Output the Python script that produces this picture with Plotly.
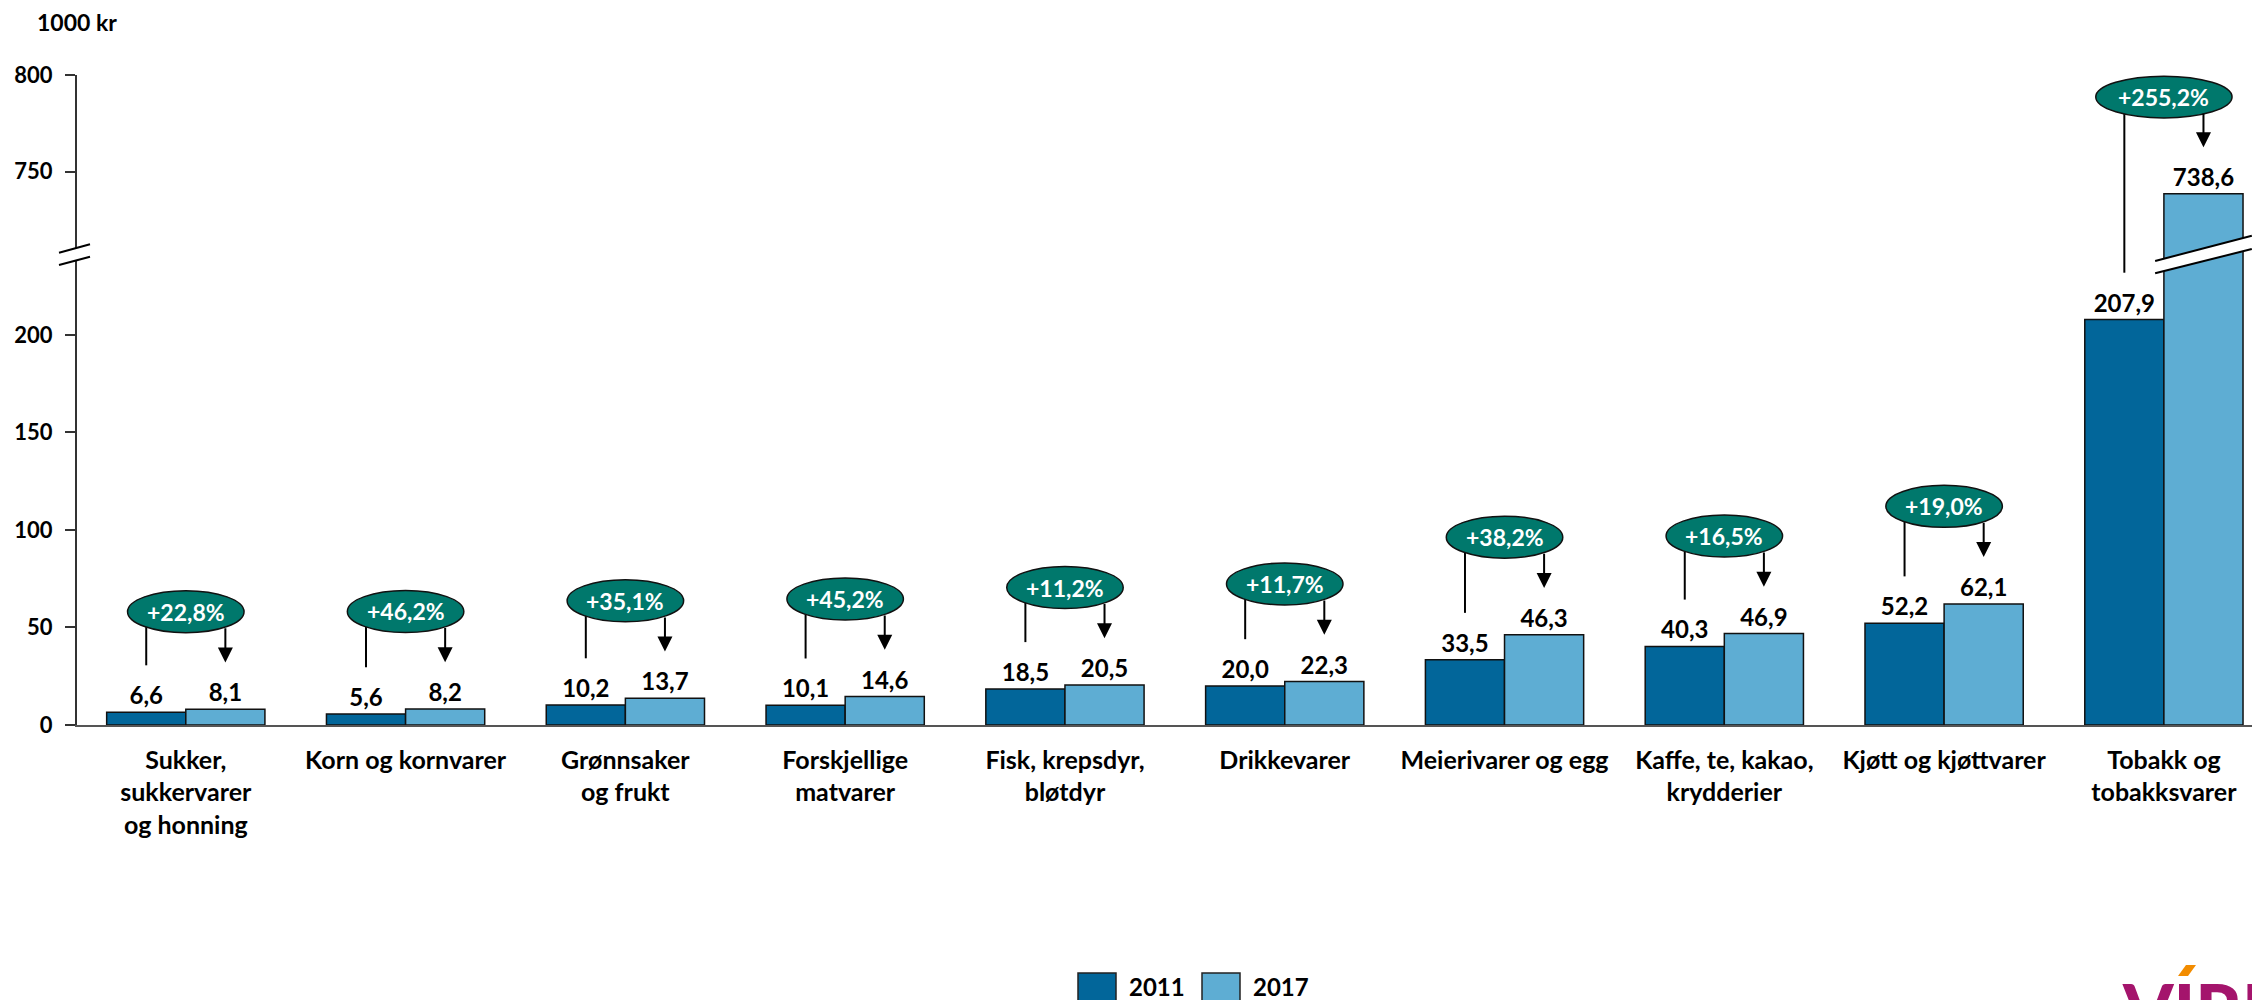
import plotly.graph_objects as go

# ── Data ─────────────────────────────────────────────────────────────────────
categories = [
    "Sukker,<br>sukkervarer<br>og honning", "Korn og kornvarer", "Grønnsaker<br>og frukt",
    "Forskjellige<br>matvarer", "Fisk, krepsdyr,<br>bløtdyr", "Drikkevarer",
    "Meierivarer og egg", "Kaffe, te, kakao,<br>krydderier", "Kjøtt og kjøttvarer",
    "Tobakk og<br>tobakksvarer",
]
v2011 = [6.6, 5.6, 10.2, 10.1, 18.5, 20.0, 33.5, 40.3, 52.2, 207.9]
v2017 = [8.1, 8.2, 13.7, 14.6, 20.5, 22.3, 46.3, 46.9, 62.1, 738.6]
changes = ["+22,8%", "+46,2%", "+35,1%", "+45,2%", "+11,2%",
           "+11,7%", "+38,2%", "+16,5%", "+19,0%", "+255,2%"]
years = ["2011", "2017"]

C_2011 = "#02669A"
C_2017 = "#5EADD3"
C_TEAL = "#00786C"
FONT = "Lato, Carlito, Calibri, sans-serif"

# broken y axis: lower part 0..LOW_MAX, upper part UP_MIN..UP_MAX
LOW_MAX, UP_MIN, UP_MAX = 242, 708, 800

# page geometry (the html body adds an 8px margin round the figure)
OFF = 8
PAGE_W, PAGE_H = 2260, 1000
PLOT_L, PLOT_T, PLOT_B = 77, 75, 725      # page pixels
W, H = PAGE_W - OFF, PAGE_H - OFF
L, T, R = PLOT_L - OFF, PLOT_T - OFF, 0
B = H - (PLOT_B - OFF)
PW, PH = W - L - R, H - T - B
SPLIT = (PLOT_B - 253) / PH  # lower part ends at the break (page y 253)
PX_PER_UNIT = (PLOT_B - 253) / LOW_MAX


def px(x):
    """page pixel x -> paper"""
    return (x - PLOT_L) / PW


def py(y):
    """page pixel y -> paper"""
    return (PLOT_B - y) / PH


def fmt(v):
    return f"{v:.1f}".replace(".", ",")


def axes_for(v):
    return ("x2", "y2") if v > LOW_MAX else ("x", "y")


x = list(range(len(categories)))
fig = go.Figure()

# bars in both halves of the broken axis
for xa, ya, upper in (("x", "y", False), ("x2", "y2", True)):
    for name, vals, col in ((years[0], v2011, C_2011), (years[1], v2017, C_2017)):
        txt = [fmt(v) if ((v > LOW_MAX) == upper) else "" for v in vals]
        fig.add_trace(go.Bar(
            x=x, y=vals, name=name, xaxis=xa, yaxis=ya,
            marker=dict(color=col, line=dict(color="#111", width=1.5)),
            text=txt, textposition="outside", cliponaxis=False,
            textfont=dict(family=FONT, size=24, color="#000", weight="bold"),
            showlegend=False, hoverinfo="skip",
        ))

shapes, annotations = [], []
HALF_OFF = 0.18  # bar centre offset inside group
E_HALF_H = 21 / PX_PER_UNIT  # ellipse half height in data units

for i, (a, b, ch) in enumerate(zip(v2011, v2017, changes)):
    ell_y = max(a, b) + 50
    l_start = a + 24
    tip = b + 24
    # left vertical line (may cross the break)
    xa_s, ya_s = axes_for(l_start)
    xa_e, ya_e = axes_for(ell_y)
    if ya_s == ya_e:
        shapes.append(dict(type="line", xref=xa_s, yref=ya_s, x0=i - HALF_OFF, x1=i - HALF_OFF,
                           y0=l_start, y1=ell_y, line=dict(color="#000", width=2)))
    else:
        shapes.append(dict(type="line", xref="x", yref="y", x0=i - HALF_OFF, x1=i - HALF_OFF,
                           y0=l_start, y1=LOW_MAX, line=dict(color="#000", width=2)))
        shapes.append(dict(type="line", xref="x2", yref="y2", x0=i - HALF_OFF, x1=i - HALF_OFF,
                           y0=UP_MIN, y1=ell_y, line=dict(color="#000", width=2)))
    # ellipse with change label
    half_w = 0.265 + 0.045 * (len(ch) - 6)
    shapes.append(dict(type="circle", xref=xa_e, yref=ya_e, x0=i - half_w, x1=i + half_w,
                       y0=ell_y - E_HALF_H, y1=ell_y + E_HALF_H, fillcolor=C_TEAL,
                       line=dict(color="#111", width=1.5), layer="above"))
    annotations.append(dict(x=i, y=ell_y, xref=xa_e, yref=ya_e, text=ch, showarrow=False,
                            font=dict(family=FONT, size=23, color="white", weight="bold")))
    # arrow down to the 2017 bar
    xa_t, ya_t = axes_for(tip)
    annotations.append(dict(x=i + HALF_OFF, y=tip, xref=xa_t, yref=ya_t,
                            ax=i + HALF_OFF, ay=ell_y - 0.72 * E_HALF_H, axref=xa_t, ayref=ya_t,
                            text="", showarrow=True, arrowhead=2, arrowsize=1.5,
                            arrowwidth=2, arrowcolor="#000"))

# axis break marks on the y axis
shapes.append(dict(type="path", xref="paper", yref="paper", layer="above",
                   path=f"M{px(59)},{py(252.7)} L{px(90)},{py(244.3)} L{px(90)},{py(256.7)} L{px(59)},{py(265)} Z",
                   fillcolor="white", line=dict(width=0)))
for y0, y1 in ((252.7, 244.3), (265, 256.7)):
    shapes.append(dict(type="line", xref="paper", yref="paper", x0=px(59), x1=px(90),
                       y0=py(y0), y1=py(y1), line=dict(color="#000", width=2)))

# break marks across the tall bar
bx0, bx1 = len(categories) - 1 - 0.04, len(categories) - 1 + 0.40
shapes.append(dict(type="path", xref="x", yref="paper", layer="above",
                   path=f"M{bx0},{py(261)} L{bx1},{py(235.7)} L{bx1},{py(249)} L{bx0},{py(273.3)} Z",
                   fillcolor="white", line=dict(width=0)))
for y0, y1 in ((261, 235.7), (273.3, 249)):
    shapes.append(dict(type="line", xref="x", yref="paper", x0=bx0, x1=bx1,
                       y0=py(y0), y1=py(y1), line=dict(color="#000", width=2)))

# legend (bottom centre, partly cut like the original)
for lx, name, col in ((1078, years[0], C_2011), (1202, years[1], C_2017)):
    shapes.append(dict(type="rect", xref="paper", yref="paper", x0=px(lx), x1=px(lx + 38),
                       y0=py(973), y1=py(1012), fillcolor=col, line=dict(color="#222", width=1.5)))
    annotations.append(dict(x=px(lx + 49), y=py(986), xref="paper", yref="paper", text=name,
                            showarrow=False, xanchor="left", yanchor="middle",
                            font=dict(family=FONT, size=24, color="#000", weight="bold")))

# unit label
annotations.append(dict(x=px(35), y=py(22), xref="paper", yref="paper", text="1000 kr",
                        showarrow=False, xanchor="left", yanchor="middle",
                        font=dict(family=FONT, size=23, color="#000", weight="bold")))

# logo, cut at the corner
annotations.append(dict(x=px(2120), y=py(964), xref="paper", yref="paper", text="VIRKE",
                        showarrow=False, xanchor="left", yanchor="top",
                        font=dict(family=FONT, size=72, color="#A4146C", weight=900)))
shapes.append(dict(type="path", xref="paper", yref="paper",
                   path=f"M{px(2178)},{py(976)} L{px(2186)},{py(965)} L{px(2196)},{py(965)} L{px(2188)},{py(976)} Z",
                   fillcolor="#F28C00", line=dict(width=0)))

tick_font = dict(family=FONT, size=22, color="#000", weight="bold")
yaxis_common = dict(showgrid=False, zeroline=False, showline=True, linecolor="#333", linewidth=2,
                    ticks="outside", ticklen=10, tickwidth=2, tickcolor="#333",
                    tickfont=tick_font, ticklabelstandoff=8, fixedrange=True)

x_right = (PAGE_W - 185.7) / 219.8  # last visible position at the page's right edge

fig.update_layout(
    width=W, height=H,
    margin=dict(l=L, r=R, t=T, b=B),
    paper_bgcolor="white", plot_bgcolor="rgba(0,0,0,0)",
    barmode="group", bargap=0.28, bargroupgap=0,
    showlegend=False,
    xaxis=dict(range=[-0.495, x_right], tickvals=x, ticktext=categories, tickfont=dict(
        family=FONT, size=25, color="#000", weight="bold"), ticks="", ticklabelstandoff=12,
        showline=True, linecolor="#555", linewidth=1.5, showgrid=False, zeroline=False,
        anchor="y", fixedrange=True),
    xaxis2=dict(matches="x", anchor="y2", visible=False),
    yaxis=dict(domain=[0, SPLIT], range=[0, LOW_MAX], tickvals=[0, 50, 100, 150, 200],
               **yaxis_common),
    yaxis2=dict(domain=[SPLIT, 1], range=[UP_MIN, UP_MAX], tickvals=[750, 800],
                anchor="x2", **yaxis_common),
    shapes=shapes, annotations=annotations,
)

fig.write_html("out.html")
